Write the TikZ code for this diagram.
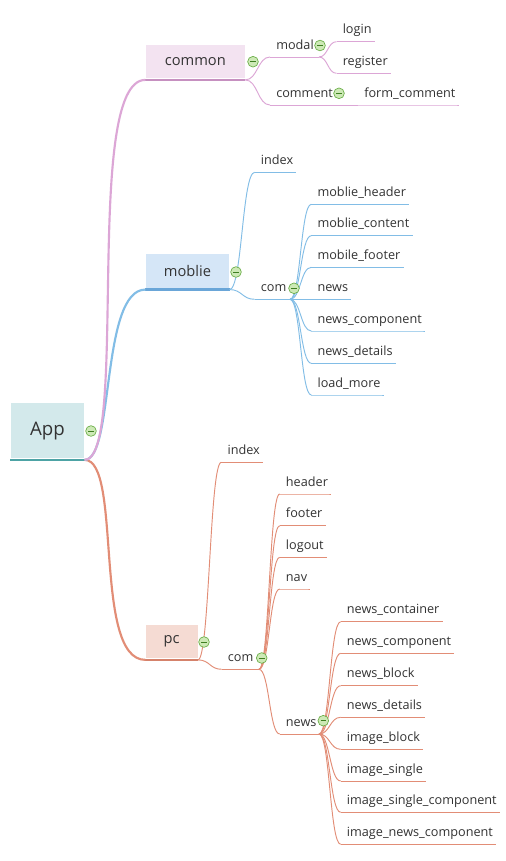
\documentclass[tikz,border=0pt]{standalone}
\usepackage{fontspec}
\setmainfont{Open Sans}
\usetikzlibrary{calc}
\definecolor{txt}{HTML}{333333}
\definecolor{appfill}{HTML}{D3E9EB}
\definecolor{appbar}{HTML}{4DA3A5}
\definecolor{cmfill}{HTML}{F3E3F1}
\definecolor{cmbar}{HTML}{C690C0}
\definecolor{cmline}{HTML}{DCA6D6}
\definecolor{mbfill}{HTML}{D5E6F7}
\definecolor{mbbar}{HTML}{6AA6D8}
\definecolor{mbline}{HTML}{82BDE6}
\definecolor{pcfill}{HTML}{F5DBD3}
\definecolor{pcbar}{HTML}{D5826B}
\definecolor{pcline}{HTML}{E28D76}
\definecolor{collf}{HTML}{CDE9B6}
\definecolor{colld}{HTML}{6BAE48}
\definecolor{collm}{HTML}{3F7F22}
\tikzset{
 lbl/.style={anchor=base west, inner sep=0pt, text=txt, font=\fontsize{9.5}{11}\selectfont},
 topbox/.style={rectangle, inner sep=0pt, text=txt, font=\fontsize{11}{13}\selectfont},
 coll/.style={circle, draw=colld, fill=collf, line width=0.5pt, minimum size=8pt, inner sep=0pt,
   path picture={\draw[collm, line width=0.75pt] ([xshift=-2.1pt]path picture bounding box.center) -- ([xshift=2.1pt]path picture bounding box.center);}},
 sc/.style={to path={let \p1=(\tikztostart), \p2=(\tikztotarget) in .. controls ({0.5*\x1+0.5*\x2},\y1) and ({0.5*\x1+0.5*\x2},\y2) .. (\tikztotarget)}},
 cmc/.style={draw=cmline, line width=0.7pt},
 mbc/.style={draw=mbline, line width=0.7pt},
 pcc/.style={draw=pcline, line width=0.7pt},
 mainc/.style={line width=1.6pt},
}
\newcommand\mmleaf[5]{%
  \coordinate (#1-s) at (#2-6,#3);
  \node[lbl] (#1) at (#2,#3-8) {#4};
  \draw[#5] (#1-s) -- (#1-s -| #1.east) -- ++(3,0);
}
\newcommand\mmparent[6]{%
  \coordinate (#1-s) at (#2-6,#3);
  \coordinate (#1-j) at (#6,#3);
  \node[lbl] (#1) at (#2,#3-8) {#4};
  \draw[#5] (#1-s) -- (#1-j);
}
\begin{document}
\begin{tikzpicture}[x=0.75pt, y=-0.75pt]
\useasboundingbox (0,0) rectangle (506,861);
\fill[white] (0,0) rectangle (506,861);

% central and main topics
\node[topbox, fill=appfill, minimum width=55.2pt, minimum height=41.25pt, font=\fontsize{14}{16}\selectfont] (app) at (47.5,430.8) {App};
\node[topbox, fill=cmfill, minimum width=74.5pt, minimum height=25pt] (common) at (195.35,61.65) {common};
\node[topbox, fill=mbfill, minimum width=62.7pt, minimum height=25.5pt] (moblie) at (187.5,271) {moblie};
\node[topbox, fill=pcfill, minimum width=39pt, minimum height=25pt] (pc) at (171.7,641.65) {pc};
\fill[appbar] (app.south west) rectangle ($(app.south east)+(0,2.7)$);
\fill[cmbar] (common.south west) rectangle ($(common.south east)+(0,2.7)$);
\fill[mbbar] (moblie.south west) rectangle ($(moblie.south east)+(0,2.7)$);
\fill[pcbar] (pc.south west) rectangle ($(pc.south east)+(0,2.7)$);
\coordinate (app-r) at ($(app.south east)+(0,1.3)$);
\coordinate (common-l) at ($(common.south west)+(0,1.3)$);
\coordinate (common-r) at ($(common.south east)+(0,1.3)$);
\coordinate (moblie-l) at ($(moblie.south west)+(0,1.3)$);
\coordinate (moblie-r) at ($(moblie.south east)+(0,1.3)$);
\coordinate (pc-l) at ($(pc.south west)+(0,1.3)$);
\coordinate (pc-r) at ($(pc.south east)+(0,1.3)$);

% main connectors
\draw[mainc, pcline] (app-r) .. controls +(38,0) and +(-53,0) .. (pc-l);
\draw[mainc, mbline] (app-r) .. controls +(30,0) and +(-45,0) .. (moblie-l);
\draw[mainc, cmline] (app-r) .. controls +(45,0) and +(-63,0) .. (common-l);

% common branch
\mmparent{modal}{276}{57}{modal}{cmc}{319}
\mmleaf{login}{342.5}{41.7}{login}{cmc}
\mmleaf{register}{342.5}{73.3}{register}{cmc}
\mmparent{comment}{276}{105}{comment}{cmc}{352}
\mmleaf{formc}{364}{105}{form\_comment}{cmc}
\draw[cmc] (common-r) to[sc] (modal-s);
\draw[cmc] (common-r) to[sc] (comment-s);
\draw[cmc] (modal-j) to[sc] (login-s);
\draw[cmc] (modal-j) to[sc] (register-s);
\draw[cmc] (comment-j) to[sc] (formc-s);

% moblie branch
\mmleaf{mindex}{260.7}{172.3}{index}{mbc}
\mmparent{mcom}{260.7}{299.3}{com}{mbc}{290}
\mmleaf{mh}{317.3}{204.3}{moblie\_header}{mbc}
\mmleaf{mc}{317.3}{235.7}{moblie\_content}{mbc}
\mmleaf{mf}{317.3}{267.3}{mobile\_footer}{mbc}
\mmleaf{mn}{317.3}{299.3}{news}{mbc}
\mmleaf{mnc}{317.3}{331}{news\_component}{mbc}
\mmleaf{mnd}{317.3}{363.3}{news\_details}{mbc}
\mmleaf{mlm}{317.3}{395}{load\_more}{mbc}
\draw[mbc] (moblie-r) to[sc] (mindex-s);
\draw[mbc] (moblie-r) to[sc] (mcom-s);
\foreach \c in {mh,mc,mf,mn,mnc,mnd,mlm} {\draw[mbc] (mcom-j) to[sc] (\c-s);}

% pc branch
\mmleaf{pindex}{227.3}{462.3}{index}{pcc}
\mmparent{pcom}{227.7}{669.3}{com}{pcc}{259}
\mmleaf{header}{285.7}{494}{header}{pcc}
\mmleaf{footer}{285.7}{525.7}{footer}{pcc}
\mmleaf{logout}{285.7}{557.3}{logout}{pcc}
\mmleaf{nav}{285.7}{589}{nav}{pcc}
\mmparent{pnews}{285.7}{734}{news}{pcc}{319}
\mmleaf{ncont}{346.7}{621.7}{news\_container}{pcc}
\mmleaf{ncomp}{346.7}{653.3}{news\_component}{pcc}
\mmleaf{nblock}{346.7}{685.7}{news\_block}{pcc}
\mmleaf{ndet}{346.7}{717.3}{news\_details}{pcc}
\mmleaf{iblock}{346.7}{749.3}{image\_block}{pcc}
\mmleaf{isingle}{346.7}{781}{image\_single}{pcc}
\mmleaf{isc}{346.7}{812.3}{image\_single\_component}{pcc}
\mmleaf{inc}{346.7}{844.3}{image\_news\_component}{pcc}
\draw[pcc] (pc-r) to[sc] (pindex-s);
\draw[pcc] (pc-r) to[sc] (pcom-s);
\foreach \c in {header,footer,logout,nav,pnews} {\draw[pcc] (pcom-j) to[sc] (\c-s);}
\foreach \c in {ncont,ncomp,nblock,ndet,iblock,isingle,isc,inc} {\draw[pcc] (pnews-j) to[sc] (\c-s);}

% collapse markers
\node[coll] (app-c) at (91,431) {};
\node[coll] (common-c) at (253,61.7) {};
\node[coll] (moblie-c) at (236,272) {};
\node[coll] (pc-c) at (204,642) {};
\node[coll] (modal-c) at (320,45.5) {};
\node[coll] (comment-c) at (339,93.3) {};
\node[coll] (mcom-c) at (294,288.3) {};
\node[coll] (pcom-c) at (261.7,658) {};
\node[coll] (pnews-c) at (323.3,720.7) {};
\end{tikzpicture}
\end{document}
